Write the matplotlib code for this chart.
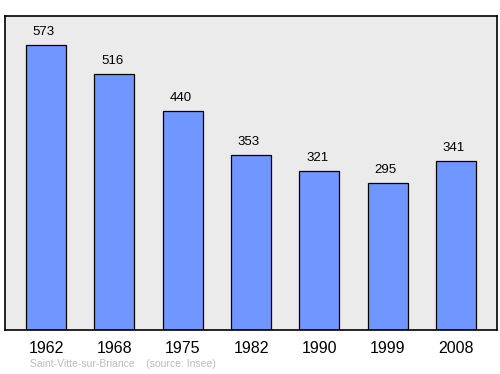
import matplotlib
matplotlib.use("Agg")
import matplotlib.pyplot as plt

# ── 데이터 ──────────────────────────────────────
years = ["1962", "1968", "1975", "1982", "1990", "1999", "2008"]
population = [573, 516, 440, 353, 321, 295, 341]
commune = "Saint-Vitte-sur-Briance"
source = "(source: Insee)"

plt.rcParams["font.family"] = ["Liberation Sans", "DejaVu Sans"]

fig = plt.figure(figsize=(5, 3.74), dpi=100)
ax = fig.add_axes([5 / 500, 1 - 330 / 374, 492 / 500, 314 / 374])
ax.set_facecolor("#ebebeb")

x = list(range(len(years)))
ax.bar(x, population, width=0.585, color="#7096ff",
       edgecolor="black", linewidth=0.9, zorder=2)

for xi, v in zip(x, population):
    ax.text(xi - 0.03, v + 14, str(v), ha="center", va="bottom", fontsize=9.5)

ax.set_xlim(-0.6, len(years) - 0.4)
ax.set_ylim(0, 632)
ax.set_xticks(x)
ax.set_xticklabels(years, fontsize=11.5)
ax.tick_params(axis="x", length=0, pad=8)
ax.set_yticks([])
for s in ax.spines.values():
    s.set_linewidth(1.2)

fig.text(30 / 500, 1 - 364 / 374, commune + "    " + source,
         fontsize=7.5, color="#bbbbbb", ha="left", va="center")

fig.savefig("out.png", dpi=100)
plt.close(fig)
